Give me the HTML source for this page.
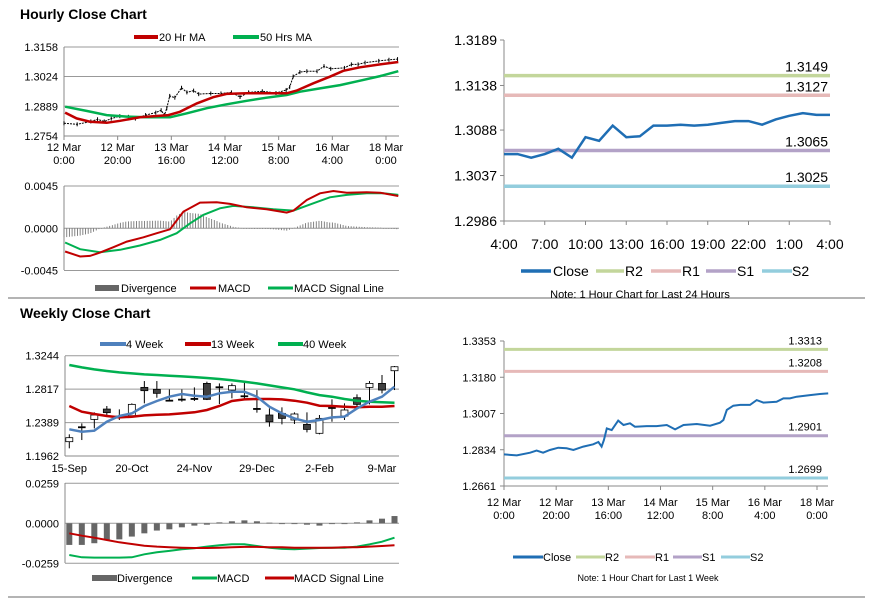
<!DOCTYPE html>
<html><head><meta charset="utf-8"><style>
html,body{margin:0;padding:0;background:#fff;}
svg{display:block;font-family:"Liberation Sans",sans-serif;}
text{fill:#000;}
</style></head><body>
<svg id="s" width="873" height="601" viewBox="0 0 873 601">
<rect x="0" y="0" width="873" height="601" fill="#fff"/>
<text x="20" y="19" font-size="14" font-weight="bold">Hourly Close Chart</text>
<text x="20" y="318" font-size="14" font-weight="bold">Weekly Close Chart</text>
<line x1="8" y1="298" x2="865" y2="298" stroke="#888" stroke-width="1.2"/>
<line x1="8" y1="597" x2="865" y2="597" stroke="#888" stroke-width="1.2"/>

<!-- hourly legend -->
<g font-size="11">
<line x1="134" y1="37" x2="158" y2="37" stroke="#c00000" stroke-width="4"/>
<text x="159" y="41">20 Hr MA</text>
<line x1="233" y1="37" x2="259" y2="37" stroke="#00b050" stroke-width="4"/>
<text x="260" y="41">50 Hrs MA</text>
</g>
<g font-size="11">
<rect x="95" y="285" width="24" height="6" fill="#666"/>
<text x="121" y="292">Divergence</text>
<line x1="190" y1="288" x2="216" y2="288" stroke="#c00000" stroke-width="3"/>
<text x="218" y="292">MACD</text>
<line x1="268" y1="288" x2="293" y2="288" stroke="#00b050" stroke-width="3"/>
<text x="294" y="292">MACD Signal Line</text>
</g>
<g font-size="11">
<line x1="100" y1="344" x2="126" y2="344" stroke="#4f81bd" stroke-width="4"/>
<text x="126" y="348">4 Week</text>
<line x1="185" y1="344" x2="211" y2="344" stroke="#c00000" stroke-width="4"/>
<text x="211" y="348">13 Week</text>
<line x1="278" y1="344" x2="303" y2="344" stroke="#00b050" stroke-width="4"/>
<text x="303" y="348">40 Week</text>
</g>
<g font-size="11">
<rect x="92" y="575" width="25" height="6" fill="#666"/>
<text x="117" y="582">Divergence</text>
<line x1="192" y1="578" x2="217" y2="578" stroke="#00b050" stroke-width="3"/>
<text x="217" y="582">MACD</text>
<line x1="265" y1="578" x2="294" y2="578" stroke="#c00000" stroke-width="3"/>
<text x="294" y="582">MACD Signal Line</text>
</g>
<g font-size="14">
<line x1="521" y1="271" x2="551" y2="271" stroke="#1f6eb4" stroke-width="3.5"/>
<text x="553" y="276">Close</text>
<line x1="596" y1="271" x2="624" y2="271" stroke="#c3d69b" stroke-width="3.5"/>
<text x="625" y="276">R2</text>
<line x1="651" y1="271" x2="681" y2="271" stroke="#e6b9b8" stroke-width="3.5"/>
<text x="682" y="276">R1</text>
<line x1="706" y1="271" x2="736" y2="271" stroke="#b3a2c7" stroke-width="3.5"/>
<text x="737" y="276">S1</text>
<line x1="762" y1="271" x2="792" y2="271" stroke="#93cddd" stroke-width="3.5"/>
<text x="792" y="276">S2</text>
<text x="640" y="298" font-size="11" text-anchor="middle">Note: 1 Hour Chart for Last 24 Hours</text>
</g>
<g font-size="11">
<line x1="513" y1="557" x2="543" y2="557" stroke="#1f6eb4" stroke-width="3"/>
<text x="543" y="561">Close</text>
<line x1="576" y1="557" x2="605" y2="557" stroke="#c3d69b" stroke-width="3"/>
<text x="605" y="561">R2</text>
<line x1="625" y1="557" x2="655" y2="557" stroke="#e6b9b8" stroke-width="3"/>
<text x="655" y="561">R1</text>
<line x1="673" y1="557" x2="702" y2="557" stroke="#b3a2c7" stroke-width="3"/>
<text x="702" y="561">S1</text>
<line x1="721" y1="557" x2="750" y2="557" stroke="#93cddd" stroke-width="3"/>
<text x="750" y="561">S2</text>
<text x="648" y="581" font-size="9" text-anchor="middle">Note: 1 Hour Chart for Last 1 Week</text>
</g>
</svg>
<script>
// ---------- data ----------
// Hourly (last week), x in hours since 12 Mar 0:00
const weekHours = [0,4.9,10,12.5,15,17.6,20.8,24,26.6,30.4,34.2,36.2,37.4,38.3,39.4,41.3,43.8,45.8,48.3,50.2,54.7,58.5,62.4,65.6,68.8,73.9,79,82.8,84.1,85.4,87.9,90.5,94.3,96.9,99.4,104.5,107.1,109.6,112.2,117.3,121.1,124.3];
const weekClose = [1.2812,1.2807,1.2820,1.2830,1.2820,1.2833,1.2844,1.2841,1.2833,1.2849,1.2860,1.2871,1.2849,1.2880,1.2936,1.2928,1.2973,1.2952,1.2960,1.2944,1.2947,1.2947,1.2952,1.2931,1.2952,1.2957,1.2949,1.2963,1.2976,1.3024,1.3044,1.3048,1.3048,1.3071,1.3059,1.3063,1.3079,1.3079,1.3087,1.3095,1.3100,1.3103];
const ma20Hours = [0.4,4.7,9.7,15.9,20.9,28.3,34.6,38.9,43.2,49.5,55.6,60.6,68.1,75.5,83,86.7,92.9,99.1,104.1,110.3,117.8,124.6];
const ma20 = [1.2860,1.2834,1.2819,1.2814,1.2823,1.2839,1.2845,1.2849,1.2864,1.2902,1.2930,1.2945,1.2948,1.2948,1.2948,1.2960,1.2993,1.3023,1.3050,1.3066,1.3079,1.3090];
const ma50Hours = [0.4,8.4,15.9,23.4,30.8,39.5,45.8,53.2,60.6,68.1,75.5,83,88,95.4,102.9,110.3,117.8,124.6];
const ma50 = [1.2887,1.2868,1.2849,1.2842,1.2839,1.2839,1.2857,1.2880,1.2898,1.2914,1.2928,1.2940,1.2955,1.2970,1.2985,1.3005,1.3026,1.3048];
const macdHours = [0.4,6,9.7,13.4,18.4,23.4,29.6,34.6,39.5,44.5,50.7,56.9,61.9,68.1,75.5,83,85.5,90.5,95.4,100.4,105.4,112.8,117.8,124.6];
const macdH = [-0.00248,-0.00301,-0.00294,-0.00259,-0.00202,-0.00142,-0.00096,-0.00053,-0.00011,0.00177,0.00273,0.00277,0.00259,0.00223,0.00202,0.00167,0.00188,0.00301,0.00372,0.00397,0.00379,0.00383,0.00379,0.00344];
const sigHours = [0.4,6,13.4,20.9,28.3,35.8,42,47,51.9,58.1,63.1,70.5,78,85.5,92.9,99.1,105.4,112.8,119,124.6];
const sigH = [-0.00152,-0.00223,-0.00255,-0.00230,-0.00184,-0.00124,-0.00053,0.00053,0.00142,0.00213,0.00238,0.00223,0.00202,0.00188,0.00266,0.00330,0.00355,0.00372,0.00372,0.00355];
const weekTickLabels = [["12 Mar","0:00"],["12 Mar","20:00"],["13 Mar","16:00"],["14 Mar","12:00"],["15 Mar","8:00"],["16 Mar","4:00"],["18 Mar","0:00"]];
// last 24 hours
const dayClose = [1.3061,1.3061,1.3057,1.3061,1.3067,1.3057,1.3080,1.3076,1.3093,1.3080,1.3081,1.3093,1.3093,1.3094,1.3093,1.3094,1.3096,1.3098,1.3098,1.3094,1.3100,1.3104,1.3107,1.3105,1.3105];
const dayTickLabels = ["4:00","7:00","10:00","13:00","16:00","19:00","22:00","1:00","4:00"];
const dayLevelNames = ["R2","R1","S1","S2"];
const dayLevels = [1.3149,1.3127,1.3065,1.3025];
const weekLevels = [1.3313,1.3208,1.2901,1.2699];
// weekly
const weekLabels = ["15-Sep","20-Oct","24-Nov","29-Dec","2-Feb","9-Mar"];
const wOpen  = [1.2145,1.2337,1.2430,1.2562,1.2473,1.2477,1.2839,1.2814,1.2677,1.2690,1.2699,1.2890,1.2848,1.2805,1.2733,1.2571,1.2486,1.2507,1.2422,1.2366,1.2252,1.2584,1.2473,1.2707,1.2839,1.2890,1.3052];
const wClose = [1.2196,1.2337,1.2486,1.2516,1.2473,1.2622,1.2797,1.2763,1.2677,1.2690,1.2699,1.2686,1.2848,1.2861,1.2733,1.2571,1.2400,1.2443,1.2499,1.2302,1.2443,1.2584,1.2550,1.2622,1.2890,1.2805,1.3103];
const wHigh  = [1.2239,1.2379,1.2520,1.2601,1.2558,1.2635,1.2920,1.2920,1.2814,1.2814,1.2839,1.2912,1.2890,1.2890,1.2912,1.2805,1.2571,1.2584,1.2520,1.2520,1.2486,1.2686,1.2635,1.2750,1.2920,1.2997,1.3112];
const wLow   = [1.2060,1.2166,1.2315,1.2486,1.2422,1.2464,1.2635,1.2707,1.2665,1.2656,1.2665,1.2677,1.2626,1.2699,1.2690,1.2516,1.2337,1.2366,1.2371,1.2264,1.2239,1.2400,1.2422,1.2580,1.2622,1.2763,1.2805];
const ma4  = [1.2303,1.2273,1.2286,1.2400,1.2473,1.2507,1.2601,1.2665,1.2720,1.2754,1.2733,1.2720,1.2763,1.2784,1.2784,1.2720,1.2592,1.2507,1.2443,1.2400,1.2422,1.2456,1.2464,1.2571,1.2656,1.2720,1.2848];
const ma13 = [1.2601,1.2528,1.2499,1.2473,1.2456,1.2464,1.2481,1.2490,1.2494,1.2507,1.2520,1.2550,1.2601,1.2665,1.2686,1.2690,1.2690,1.2686,1.2669,1.2643,1.2605,1.2601,1.2592,1.2584,1.2592,1.2592,1.2601];
const ma40 = [1.3125,1.3095,1.3069,1.3048,1.3031,1.3018,1.3005,1.2997,1.2988,1.2980,1.2971,1.2959,1.2946,1.2929,1.2912,1.2890,1.2865,1.2839,1.2814,1.2775,1.2741,1.2720,1.2690,1.2669,1.2656,1.2648,1.2643];
const wDiv = [-0.0140,-0.0140,-0.0129,-0.0108,-0.0104,-0.0086,-0.0065,-0.0047,-0.0039,-0.0026,-0.0015,-0.0009,0.0006,0.0013,0.0019,0.0013,0.0004,-0.0002,-0.0002,-0.0009,-0.0015,-0.0002,-0.0002,0.0006,0.0019,0.0030,0.0047];
const wMacd = [-0.0205,-0.0220,-0.0222,-0.0222,-0.0222,-0.0220,-0.0201,-0.0188,-0.0179,-0.0168,-0.0162,-0.0151,-0.0142,-0.0136,-0.0136,-0.0147,-0.0158,-0.0166,-0.0168,-0.0164,-0.0160,-0.0158,-0.0158,-0.0151,-0.0136,-0.0119,-0.0093];
const wSig = [-0.0065,-0.0080,-0.0093,-0.0108,-0.0123,-0.0134,-0.0145,-0.0151,-0.0155,-0.0158,-0.0160,-0.0160,-0.0158,-0.0155,-0.0153,-0.0153,-0.0155,-0.0155,-0.0158,-0.0158,-0.0158,-0.0158,-0.0155,-0.0155,-0.0151,-0.0147,-0.0142];

// ---------- helpers ----------
const S = document.getElementById('s');
const NS = 'http://www.w3.org/2000/svg';
function mk(tag, attrs){ const e=document.createElementNS(NS,tag); for(const k in attrs) e.setAttribute(k,attrs[k]); S.appendChild(e); return e; }
function lin(d0,d1,r0,r1){ return v => r0 + (v-d0)/(d1-d0)*(r1-r0); }
function pts(xs,ys,fx,fy){ return xs.map((x,i)=>fx(x).toFixed(1)+','+fy(ys[i]).toFixed(1)).join(' '); }
function interp(xs,ys,x){ if(x<=xs[0]) return ys[0]; for(let i=1;i<xs.length;i++){ if(x<=xs[i]){ const t=(x-xs[i-1])/(xs[i]-xs[i-1]); return ys[i-1]+t*(ys[i]-ys[i-1]); } } return ys[ys.length-1]; }
function axisText(x,y,txt,anchor,size){ const t=mk('text',{x:x,y:y,'font-size':size,'text-anchor':anchor}); t.textContent=txt; return t; }

// ---------- Hourly price (top-left) ----------
const hx = lin(0,120,64,386);
const hy = lin(1.2754,1.3158,136,47);
[1.3158,1.3024,1.2889].forEach((v,i)=>{
  const g=mk('line',{x1:64,x2:399,y1:hy(v),y2:hy(v),stroke:'#999','stroke-width':1});
  
  
});
[1.3158,1.3024,1.2889,1.2754].forEach(v=>{
  const t=axisText(58,hy(v)+4,v.toFixed(4),'end',11);
  
  
});
let e;
e=mk('line',{x1:64,x2:64,y1:47,y2:136,stroke:'#888'});


e=mk('line',{x1:64,x2:399,y1:136,y2:136,stroke:'#888'});


weekTickLabels.forEach((l,i)=>{
  const x=hx(i*20);
  const tk=mk('line',{x1:x,x2:x,y1:136,y2:140,stroke:'#888'});
  
  
  const a=axisText(x,151,l[0],'middle',11);
  
  
  const b=axisText(x,164,l[1],'middle',11);
  
  
});
e=mk('polyline',{points:pts(weekHours,weekClose,hx,hy),fill:'none',stroke:'#000','stroke-width':1,'stroke-dasharray':'2 1'});


weekHours.forEach((h,i)=>{
  const v=weekClose[i];
  const b=mk('line',{x1:hx(h),x2:hx(h),y1:hy(v)-2,y2:hy(v)+2,stroke:'#000','stroke-width':1});
  
  
});
e=mk('polyline',{points:pts(ma50Hours,ma50,hx,hy),fill:'none',stroke:'#00b050','stroke-width':2.5});


e=mk('polyline',{points:pts(ma20Hours,ma20,hx,hy),fill:'none',stroke:'#c00000','stroke-width':2.5});



// ---------- Hourly MACD ----------
const my = lin(-0.0045,0.0045,270.5,186);
[0.0045,0,-0.0045].forEach(v=>{
  const g=mk('line',{x1:64,x2:399,y1:my(v),y2:my(v),stroke:'#999'});
  
  
  const t=axisText(58,my(v)+4,v.toFixed(4),'end',11);
  
  
});
e=mk('line',{x1:64,x2:64,y1:186,y2:270,stroke:'#888'});


for(let h=0;h<=124;h++){
  const d=interp(macdHours,macdH,h)-interp(sigHours,sigH,h);
  const y0=my(0), y1=my(d);
  const b=mk('rect',{x:hx(h)-0.4,y:Math.min(y0,y1),width:0.9,height:Math.max(0.5,Math.abs(y1-y0)),fill:'#777'});
  
  
}
e=mk('polyline',{points:pts(sigHours,sigH,hx,my),fill:'none',stroke:'#00b050','stroke-width':2});


e=mk('polyline',{points:pts(macdHours,macdH,hx,my),fill:'none',stroke:'#c00000','stroke-width':2});



// ---------- Last 24h pivot chart (top-right) ----------
const dx = lin(0,24,504,830);
const dy = lin(1.2986,1.3189,221,40);
const levelColors=['#c3d69b','#e6b9b8','#b3a2c7','#93cddd'];
e=mk('line',{x1:504,x2:504,y1:40,y2:221,stroke:'#888'});


e=mk('line',{x1:504,x2:830,y1:221,y2:221,stroke:'#888'});


[1.3189,1.3138,1.3088,1.3037,1.2986].forEach(v=>{
  const tk=mk('line',{x1:500,x2:504,y1:dy(v),y2:dy(v),stroke:'#888'});
  
  
  const t=axisText(497,dy(v)+5,v.toFixed(4),'end',14);
  
  
});
dayTickLabels.forEach((l,i)=>{
  const x=dx(i*3);
  const tk=mk('line',{x1:x,x2:x,y1:221,y2:225,stroke:'#888'});
  
  
  const t=axisText(x,249,l,'middle',14);
  
  
});
dayLevels.forEach((v,i)=>{
  const l=mk('line',{x1:504,x2:830,y1:dy(v),y2:dy(v),stroke:levelColors[i],'stroke-width':3.5});
  
  
  const t=axisText(828,dy(v)-4,v.toFixed(4),'end',14);
  
  
});
e=mk('polyline',{points:pts(dayClose.map((v,i)=>i),dayClose,dx,dy),fill:'none',stroke:'#1f6eb4','stroke-width':2.5});



// ---------- Last week pivot chart (bottom-right) ----------
const bx = lin(0,120,504,817);
const by = lin(1.2661,1.3353,486,341);
e=mk('line',{x1:504,x2:504,y1:341,y2:486,stroke:'#888'});


e=mk('line',{x1:504,x2:828,y1:486,y2:486,stroke:'#888'});


[1.3353,1.3180,1.3007,1.2834,1.2661].forEach(v=>{
  const tk=mk('line',{x1:500,x2:504,y1:by(v),y2:by(v),stroke:'#888'});
  
  
  const t=axisText(496,by(v)+4,v.toFixed(4),'end',11);
  
  
});
weekTickLabels.forEach((l,i)=>{
  const x=bx(i*20);
  const tk=mk('line',{x1:x,x2:x,y1:486,y2:490,stroke:'#888'});
  
  
  const a=axisText(x,506,l[0],'middle',11);
  
  
  const b=axisText(x,519,l[1],'middle',11);
  
  
});
weekLevels.forEach((v,i)=>{
  const l=mk('line',{x1:504,x2:828,y1:by(v),y2:by(v),stroke:levelColors[i],'stroke-width':3});
  
  
  const t=axisText(822,by(v)-5,v.toFixed(4),'end',11);
  
  
});
e=mk('polyline',{points:pts(weekHours,weekClose,bx,by),fill:'none',stroke:'#1f6eb4','stroke-width':2});



// ---------- Weekly candles ----------
const wx = lin(0,25,69.3,382);
const wy = lin(1.1962,1.3244,456,355.7);
[1.3244,1.2817,1.2389].forEach(v=>{
  const g=mk('line',{x1:65,x2:399,y1:wy(v),y2:wy(v),stroke:'#999'});
  
  
});
[1.3244,1.2817,1.2389,1.1962].forEach(v=>{
  const t=axisText(59,wy(v)+4,v.toFixed(4),'end',11);
  
  
});
e=mk('line',{x1:65,x2:65,y1:356,y2:456,stroke:'#888'});


e=mk('line',{x1:65,x2:399,y1:456,y2:456,stroke:'#888'});


weekLabels.forEach((l,i)=>{
  const t=axisText(wx(i*5),472,l,'middle',11);
  
  
});
wOpen.forEach((o,i)=>{
  const x=wx(i), c=wClose[i];
  const wk=mk('line',{x1:x,x2:x,y1:wy(wHigh[i]),y2:wy(wLow[i]),stroke:'#000','stroke-width':1});
  
  
  const top=wy(Math.max(o,c)), bot=wy(Math.min(o,c));
  const r=mk('rect',{x:x-3.5,y:top,width:7,height:Math.max(1.2,bot-top),fill:c>o?'#fff':(c<o?'#404040':'#000'),stroke:'#000','stroke-width':c===o?0.6:0.8});
  
  
});
const wIdx = ma4.map((v,i)=>i);
e=mk('polyline',{points:pts(wIdx,ma40,wx,wy),fill:'none',stroke:'#00b050','stroke-width':2.5});


e=mk('polyline',{points:pts(wIdx,ma13,wx,wy),fill:'none',stroke:'#c00000','stroke-width':2.5});


e=mk('polyline',{points:pts(wIdx,ma4,wx,wy),fill:'none',stroke:'#4f81bd','stroke-width':2.5});



// ---------- Weekly MACD ----------
const wmy = lin(-0.0259,0.0259,563.3,483.3);
[0.0259,0,-0.0259].forEach(v=>{
  const g=mk('line',{x1:65,x2:399,y1:wmy(v),y2:wmy(v),stroke:'#999'});
  
  
  const t=axisText(59,wmy(v)+4,v.toFixed(4),'end',11);
  
  
});
e=mk('line',{x1:65,x2:65,y1:483,y2:563,stroke:'#888'});


wDiv.forEach((d,i)=>{
  const y0=wmy(0), y1=wmy(d);
  const b=mk('rect',{x:wx(i)-3,y:Math.min(y0,y1),width:6,height:Math.max(0.8,Math.abs(y1-y0)),fill:'#666'});
  
  
});
e=mk('polyline',{points:pts(wIdx,wMacd,wx,wmy),fill:'none',stroke:'#00b050','stroke-width':2});


e=mk('polyline',{points:pts(wIdx,wSig,wx,wmy),fill:'none',stroke:'#c00000','stroke-width':2});


</script>
</body></html>
